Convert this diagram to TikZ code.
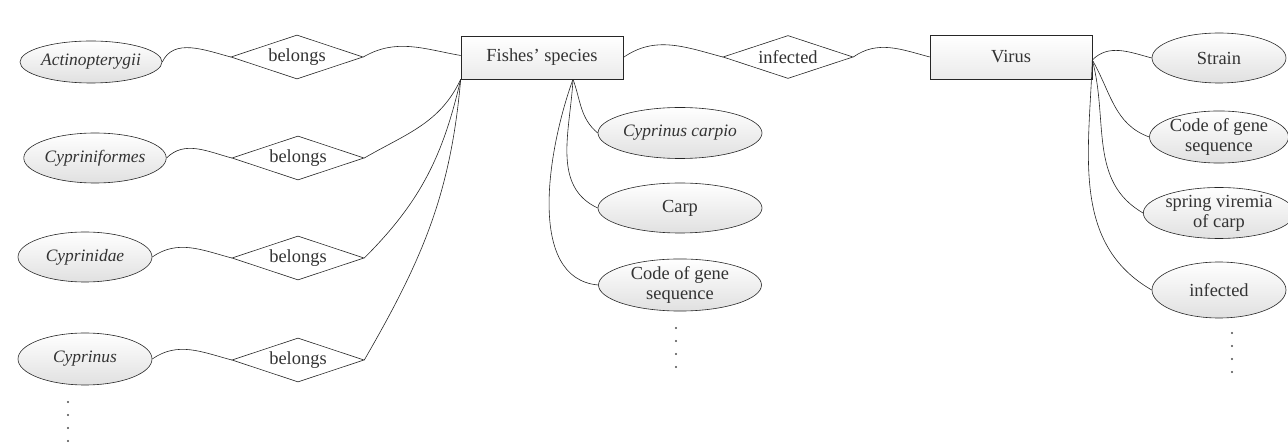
\documentclass[tikz,border=0pt]{standalone}
\usepackage{fontspec}
\setmainfont{Liberation Serif}
\usetikzlibrary{shapes.geometric}
\tikzset{
  rm/.style={font=\fontsize{18.5}{20}\selectfont},
  it/.style={font=\fontsize{17.5}{20}\selectfont\itshape},
  attr/.style={ellipse, draw=black!85, line width=0.6bp, top color=white, bottom color=black!12,
    inner sep=0pt, align=center, text=black!80, minimum width=134bp, minimum height=50bp},
  rel/.style={diamond, draw=black!85, line width=0.6bp, fill=white, aspect=3, inner sep=0pt,
    minimum width=132bp, minimum height=44bp, text=black!80, rm},
  ent/.style={rectangle, draw=black!85, line width=0.6bp, top color=white, bottom color=black!8,
    minimum width=162bp, minimum height=43bp, inner sep=0pt, text=black!80, rm},
  conn/.style={draw=black!85, line width=0.6bp},
  dot/.style={circle, fill=black!70, inner sep=0pt, minimum size=2.2bp}
}
\begin{document}
\begin{tikzpicture}[x=1bp,y=1bp]
\useasboundingbox (0,0) rectangle (1288,-444);
% left attributes
\node[attr,it,minimum width=142bp,minimum height=42bp] (act) at (91,-62) {Actinopterygii};
\node[attr,it,minimum width=140bp] (cyf) at (95,-158) {Cypriniformes};
\node[attr,it] (cyd) at (85,-257) {Cyprinidae};
\node[attr,it,minimum height=52bp] (cys) at (85,-359) {Cyprinus};
% belongs
\node[rel] (b1) at (297,-57) {belongs};
\node[rel] (b2) at (298,-158) {belongs};
\node[rel] (b3) at (298,-258) {belongs};
\node[rel] (b4) at (298,-360) {belongs};
% entities
\node[ent] (fish) at (542,-57.5) {Fishes' species};
\node[rel,minimum width=130bp,minimum height=43bp] (inf) at (788,-57) {infected};
\node[ent,minimum height=44bp] (virus) at (1011,-57) {Virus};
% middle attributes
\node[attr,it,minimum width=164bp,minimum height=51bp] (cc) at (680,-133) {Cyprinus carpio};
\node[attr,rm,minimum width=164bp] (carp) at (680,-208) {Carp};
\node[attr,rm,minimum width=163bp] (code) at (680,-285) {Code of gene\\sequence};
% right attributes
\node[attr,rm] (strain) at (1219,-58) {Strain};
\node[attr,rm,minimum height=46bp] (vcode) at (1219,-137) {Code of gene\\sequence};
\node[attr,rm,minimum height=48bp] (spring) at (1219,-213) {spring viremia\\of carp};
\node[attr,rm,minimum height=56bp] (vinf) at (1219,-290) {infected};
% dots
\foreach \i in {0,1,2,3} {
  \node[dot] at (68,-402-13*\i) {};
  \node[dot] at (676,-328-13*\i) {};
  \node[dot] at (1232,-333-13*\i) {};
}
% connectors left
\draw[conn] (act.east) to[out=65,in=165] (b1.west);
\draw[conn] (cyf.east) to[out=45,in=165] (b2.west);
\draw[conn] (cyd.east) to[out=35,in=165] (b3.west);
\draw[conn] (cys.east) to[out=35,in=165] (b4.west);
\draw[conn] (b1.east) to[out=30,in=170] ([yshift=2bp]fish.west);
\draw[conn] (b2.east) to[out=30,in=-115] (fish.south west);
\draw[conn] (b3.east) to[out=45,in=-103] (fish.south west);
\draw[conn] (b4.east) to[out=60,in=-95] (fish.south west);
% top relation
\draw[conn] (fish.east) to[out=35,in=165] (inf.west);
\draw[conn] (inf.east) to[out=35,in=165] (virus.west);
% middle
\coordinate (fb) at ([xshift=31bp]fish.south);
\draw[conn] (fb) to[out=-70,in=140] (cc.west);
\draw[conn] (fb) to[out=-93,in=155] (carp.west);
\draw[conn] (fb) to[out=-110,in=175,looseness=0.9] (code.west);
% right
\coordinate (vr) at ([yshift=-3bp]virus.east);
\draw[conn] (vr) to[out=45,in=165] (strain.west);
\draw[conn] (vr) to[out=-60,in=160] (vcode.west);
\draw[conn] (vr) to[out=-75,in=150] (spring.west);
\draw[conn] (vr) to[out=-92,in=150] (vinf.west);
\end{tikzpicture}
\end{document}
